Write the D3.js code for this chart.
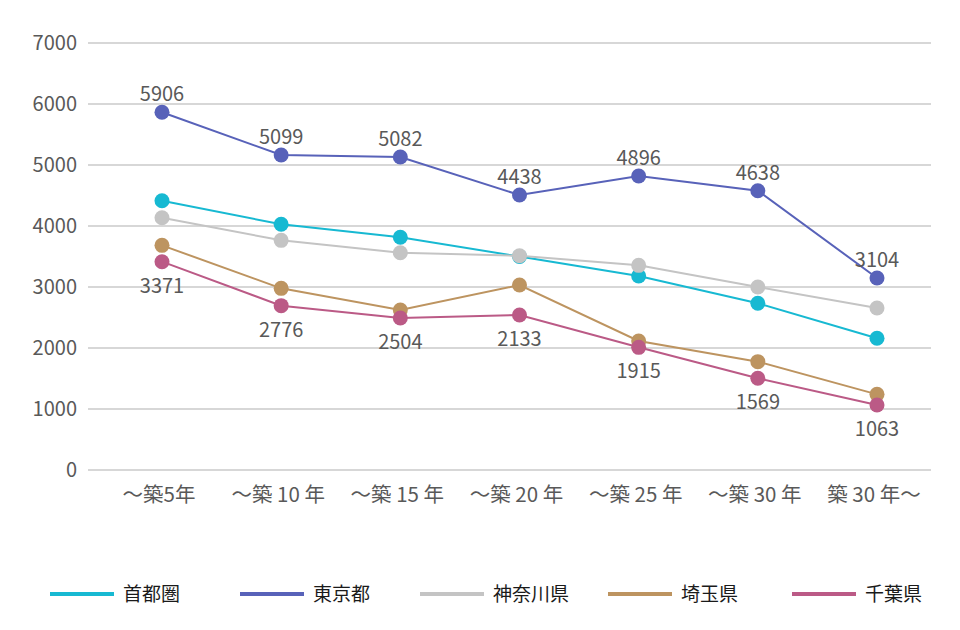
<!DOCTYPE html>
<html><head><meta charset="utf-8">
<script src="https://cdn.jsdelivr.net/npm/d3@7"></script>
<style>body{margin:0;background:#fff}svg{display:block}text{font-family:"Noto Sans CJK JP","Noto Sans",sans-serif}</style>
</head><body><svg id="c" width="960" height="630"></svg>
<script>
const categories = ["〜築5年","〜築 10 年","〜築 15 年","〜築 20 年","〜築 25 年","〜築 30 年","築 30 年〜"];
const yTicks = [0,1000,2000,3000,4000,5000,6000,7000];
const seriesNames = ["首都圏","東京都","神奈川県","埼玉県","千葉県"];
const seriesColors = ["#17b9d2","#5862b9","#c4c4c4","#bd9460","#bb5a86"];
const shutoken = [4415,4028,3815,3500,3180,2733,2159];
const tokyo = [5864,5164,5131,4508,4820,4579,3148];
const kanagawa = [4136,3765,3562,3513,3355,3000,2656];
const saitama = [3683,2978,2623,3033,2115,1776,1240];
const chiba = [3415,2694,2492,2541,2011,1503,1066];
const tokyoLabels = ["5906","5099","5082","4438","4896","4638","3104"];
const chibaLabels = ["3371","2776","2504","2133","1915","1569","1063"];

const series = [shutoken,tokyo,kanagawa,saitama,chiba];
const svg = d3.select("#c");
const x = d3.scalePoint().domain(categories).range([162,877]);
const y = d3.scaleLinear().domain([0,7000]).range([470,43]);

svg.append("g").selectAll("line").data(yTicks).join("line")
  .attr("x1",88).attr("x2",931).attr("y1",d=>y(d)).attr("y2",d=>y(d))
  .attr("stroke","#b0b0b0").attr("stroke-width",1.2);
svg.append("g").selectAll("text").data(yTicks).join("text")
  .attr("x",77).attr("y",d=>y(d)).attr("dy","0.35em").attr("text-anchor","end")
  .attr("font-size",20).attr("fill","#595959").text(d=>d);
svg.append("g").selectAll("text").data(categories).join("text")
  .attr("x",d=>x(d)-3).attr("y",502).attr("text-anchor","middle")
  .attr("font-size",20.5).attr("fill","#595959").text(d=>d);

const line = d3.line().x((d,i)=>x(categories[i])).y(d=>y(d));
series.forEach((s,k)=>{
  const g = svg.append("g");
  g.append("path").datum(s).attr("d",line).attr("fill","none")
    .attr("stroke",seriesColors[k]).attr("stroke-width",2);
  g.selectAll("circle").data(s).join("circle")
    .attr("cx",(d,i)=>x(categories[i])).attr("cy",d=>y(d)).attr("r",7.5)
    .attr("fill",seriesColors[k]);
});
svg.append("g").selectAll("text").data(tokyoLabels).join("text")
  .attr("x",(d,i)=>x(categories[i])).attr("y",(d,i)=>y(tokyo[i])-11)
  .attr("text-anchor","middle").attr("font-size",20).attr("fill","#595959").text(d=>d);
svg.append("g").selectAll("text").data(chibaLabels).join("text")
  .attr("x",(d,i)=>x(categories[i])).attr("y",(d,i)=>y(chiba[i])+31)
  .attr("text-anchor","middle").attr("font-size",20).attr("fill","#595959").text(d=>d);

const legX = [50,240,420,608,792];
const lg = svg.append("g").selectAll("g").data(seriesNames).join("g")
  .attr("transform",(d,i)=>`translate(${legX[i]},594)`);
lg.append("line").attr("x1",0).attr("x2",64).attr("y1",0).attr("y2",0)
  .attr("stroke",(d,i)=>seriesColors[i]).attr("stroke-width",4);
lg.append("text").attr("x",73).attr("y",0).attr("dy","0.36em")
  .attr("font-size",19).attr("fill","#1a1a1a").text(d=>d);
</script></body></html>
